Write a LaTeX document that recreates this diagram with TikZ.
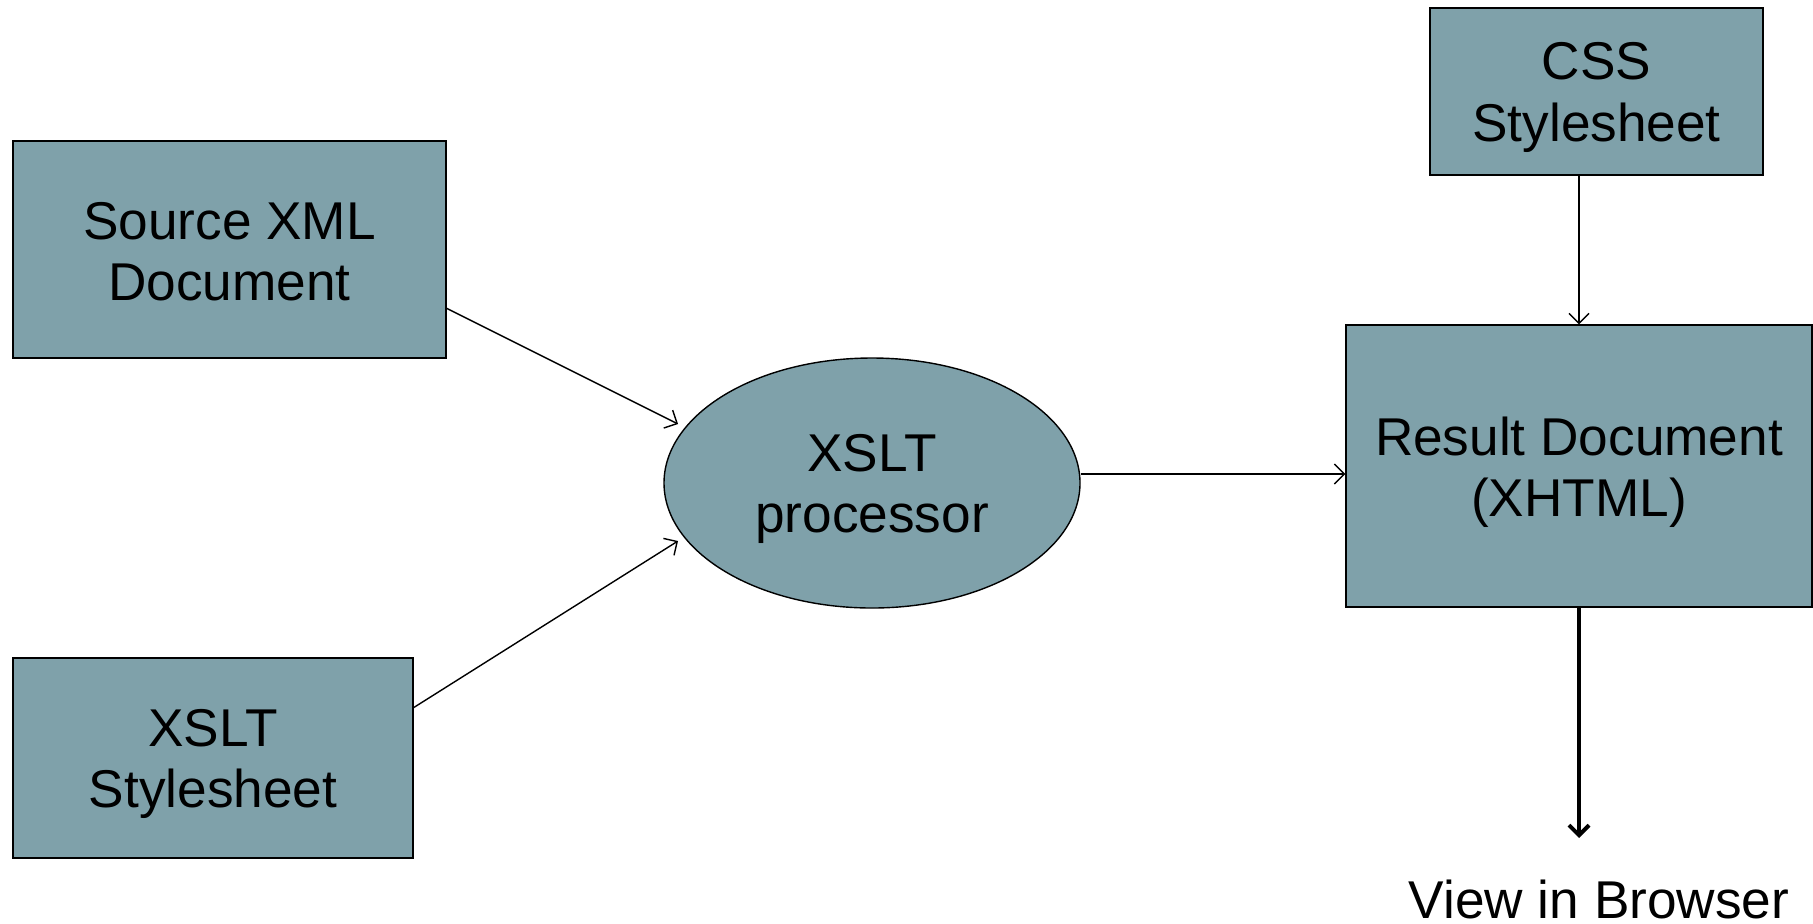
\documentclass[tikz,border=0pt]{standalone}
\usepackage{fontspec}
\setmainfont{Liberation Sans}
\usetikzlibrary{arrows.meta,shapes.geometric}
\definecolor{boxfill}{RGB}{127,161,170}
\begin{document}
\begin{tikzpicture}[x=0.5pt,y=-0.5pt,
  every node/.style={font=\fontsize{26.6}{30.6}\selectfont, align=center, inner sep=0pt},
  block/.style={draw=black, line width=0.7pt, fill=boxfill},
  proc/.style={draw=black, line width=0.7pt, fill=boxfill, ellipse},
  link/.style={line width=0.7pt, -{Straight Barb[length=5pt,width=10pt,line width=0.7pt]}},
  biglink/.style={line width=2pt, -{Straight Barb[length=5pt,width=10pt,line width=2pt]}}]
\useasboundingbox (0,0) rectangle (1813,923);
% shapes
\node[block, minimum width=216.65pt, minimum height=108.5pt] (src) at (229.5,249.5) {};
\node[block, minimum width=200.15pt, minimum height=100pt] (xsl) at (213,758) {};
\node[block, minimum width=166.5pt, minimum height=83.5pt] (css) at (1596.5,91.5) {};
\node[block, minimum width=233pt, minimum height=141pt] (res) at (1579,466) {};
\node[proc, minimum width=208pt, minimum height=125pt] (xp) at (872,483) {};
% labels
\node (srcT) at ([yshift=-1.2pt]src.center) {Source XML\\Document};
\node (xslT) at ([yshift=-3pt]xsl.center) {XSLT\\Stylesheet};
\node (cssT) at ([yshift=-3pt]css.center) {CSS\\Stylesheet};
\node (resT) at ([yshift=-3pt]res.center) {Result Document\\(XHTML)};
\node (xpT) at ([yshift=-3pt]xp.center) {XSLT\\processor};
\node (view) at (1599,899) {View in Browser};
% connectors
\coordinate (srcA) at (446,308);
\coordinate (xslA) at (413,708);
\draw[link] (srcA) -- (678,424);
\draw[link] (xslA) -- (678,541);
\draw[link] (xp.east |- 0,474) -- (res.west |- 0,474);
\draw[link] (css.south -| 1579,0) -- (res.north -| 1579,0);
\coordinate (viewA) at (1579,838);
\draw[biglink] (res.south -| 1579,0) -- (viewA);
\end{tikzpicture}
\end{document}
